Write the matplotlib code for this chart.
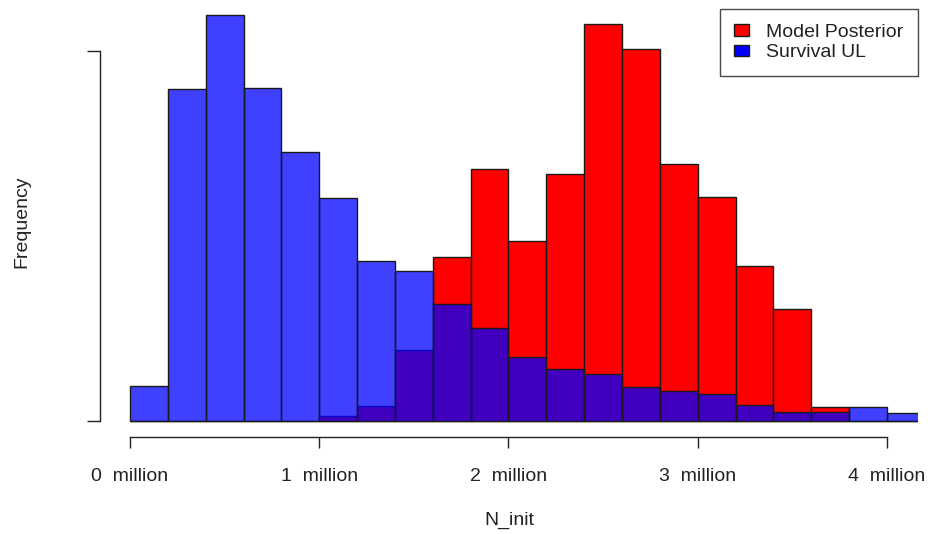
import numpy as np
import matplotlib
matplotlib.use("Agg")
import matplotlib.pyplot as plt
from matplotlib.patches import Patch

plt.rcParams["font.family"] = ["Liberation Sans", "DejaVu Sans"]

# Bordes de las clases del histograma (en millones)
bin_edges = [0.0, 0.2, 0.4, 0.6, 0.8, 1.0, 1.2, 1.4, 1.6, 1.8, 2.0, 2.2,
             2.4, 2.6, 2.8, 3.0, 3.2, 3.4, 3.6, 3.8, 4.0, 4.2]

# Frecuencias por clase de cada distribución
posterior_counts = [0, 0, 0, 0, 0, 14, 41, 192, 443, 681, 486, 668,
                    1073, 1005, 695, 605, 419, 303, 38, 0, 0]
survival_counts = [95, 897, 1097, 900, 727, 603, 432, 405, 316, 251, 173, 141,
                   127, 92, 81, 73, 43, 24, 24, 38, 22]

x_ticks = [0, 1, 2, 3, 4]
x_tick_labels = [f"{t}  million" for t in x_ticks]
y_ticks = [0, 1000]

series_labels = ["Model Posterior", "Survival UL"]

text_color = "#222222"
fs = 14

fig = plt.figure(figsize=(9.35, 5.34), dpi=100)
W, H = 935, 534
ax = fig.add_axes([100 / W, (H - 437) / H, 818 / W, 428 / H])

edges = np.array(bin_edges)
widths = np.diff(edges)

# Primero el posterior en rojo y encima el de supervivencia semitransparente
ax.bar(edges[:-1], posterior_counts, width=widths, align="edge",
       color="#ff0000", edgecolor="#1a1a1a", linewidth=1.0)
ax.bar(edges[:-1], survival_counts, width=widths, align="edge",
       color=(0, 0, 1, 0.75), edgecolor="#1a1a1a", linewidth=1.0)

ax.set_xlim(-0.1585, 4.164)
ax.set_ylim(-43.2, 1113.5)

for side in ["top", "right"]:
    ax.spines[side].set_visible(False)
ax.spines["bottom"].set_bounds(0, 4)
ax.spines["left"].set_bounds(0, 1000)
for side in ["bottom", "left"]:
    ax.spines[side].set_linewidth(1.0)
    ax.spines[side].set_color("#222222")

ax.set_xticks(x_ticks)
ax.set_xticklabels(x_tick_labels, fontsize=fs, color=text_color)
ax.set_yticks(y_ticks)
ax.set_yticklabels(["" for _ in y_ticks])
ax.tick_params(axis="x", length=8, width=1.0, pad=14, color="#222222")
ax.tick_params(axis="y", length=9.4, width=1.0, color="#222222")

fig.text(22 / W, 1 - 222 / H, "Frequency", rotation=90, ha="center", va="center",
         fontsize=fs, color=text_color)
fig.text(509 / W, 1 - 520 / H, "N_init", ha="center", va="center",
         fontsize=fs, color=text_color)

handles = [Patch(facecolor="#ff0000", edgecolor="#1a1a1a", linewidth=1.0),
           Patch(facecolor="#0000ff", edgecolor="#1a1a1a", linewidth=1.0)]
leg = ax.legend(handles, series_labels, loc="upper right", fontsize=fs,
                frameon=True, fancybox=False, borderaxespad=0, borderpad=0.75,
                handlelength=0.75, handleheight=0.55, handletextpad=0.9,
                labelspacing=0.2, labelcolor=text_color)
leg.get_frame().set_edgecolor("#1a1a1a")
leg.get_frame().set_linewidth(1.0)

plt.savefig("out.png", dpi=100)
plt.close()
